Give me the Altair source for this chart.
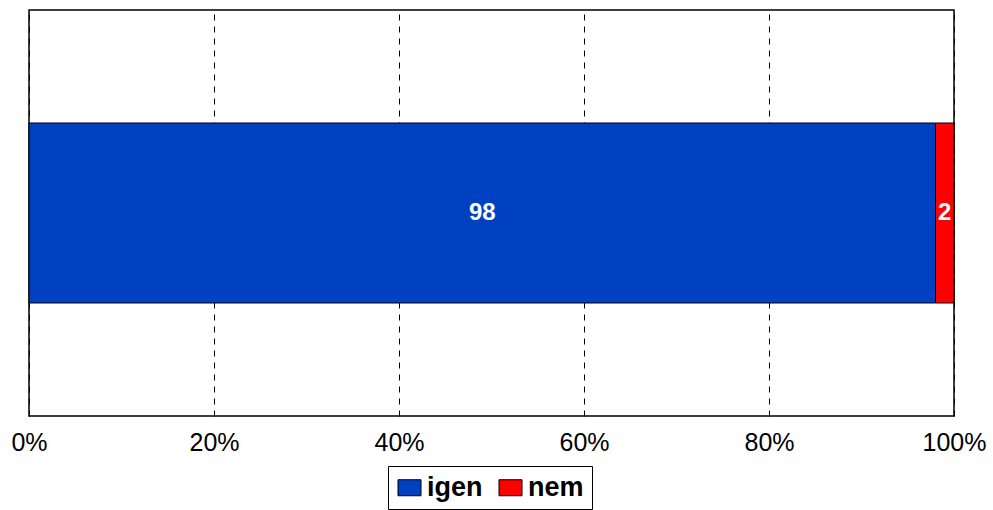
import altair as alt
import pandas as pd

categories = ["igen", "nem"]
values = [98, 2]
colors = ["#0041C2", "#FF0000"]
row_label = ["kérdés", "kérdés"]
x_ticks = [0, 0.2, 0.4, 0.6, 0.8, 1.0]

df = pd.DataFrame({"cat": categories, "val": values, "order": [0, 1], "row": row_label})

base = alt.Chart(df).transform_stack(
    stack="val", as_=["x0", "x1"], groupby=["row"],
    sort=[alt.SortField("order")], offset="normalize"
).transform_calculate(mid="(datum.x0 + datum.x1) / 2")

y = alt.Y("row:N", axis=None, scale=alt.Scale(paddingInner=0, paddingOuter=0.6278))

bars = base.mark_bar(stroke="black", strokeWidth=1).encode(
    x=alt.X("x0:Q", title=None,
            scale=alt.Scale(domain=[0, 1], nice=False, zero=True),
            axis=alt.Axis(values=x_ticks, format=".0%", grid=True, gridDash=[6, 6],
                          gridColor="black", gridWidth=1, gridOpacity=1,
                          domain=False, ticks=False, labelPadding=14,
                          labelFontSize=25, labelFont="Liberation Sans",
                          labelColor="black", labelFlush=False)),
    x2="x1:Q",
    y=y,
    color=alt.Color("cat:N", scale=alt.Scale(domain=categories, range=colors),
                    legend=alt.Legend(title=None, orient="none", direction="horizontal",
                                      legendX=359, legendY=456,
                                      symbolType="M-1,-0.6957H1V0.6957H-1Z",
                                      symbolSize=529, symbolStrokeColor="black",
                                      symbolStrokeWidth=1, symbolOpacity=1,
                                      labelFontSize=27, labelFontWeight="bold",
                                      labelFont="Liberation Sans", labelColor="black",
                                      labelOffset=4, columnPadding=14,
                                      padding=8, strokeColor="black",
                                      fillColor="white")),
    order=alt.Order("order:Q"),
)

text = base.mark_text(color="white", fontWeight="bold", fontSize=24,
                      font="Liberation Sans", baseline="middle", align="center").encode(
    x="mid:Q", y=y, text="val:Q"
)

chart = alt.layer(bars, text).properties(
    width=925, height=406,
    background="white",
    autosize=alt.AutoSizeParams(type="none"),
    padding={"left": 29, "top": 10, "right": 39, "bottom": 94},
).configure_view(stroke="black", strokeWidth=1.5, strokeOpacity=1)

chart.save("out.html", embed_options={"renderer": "svg", "actions": False})
